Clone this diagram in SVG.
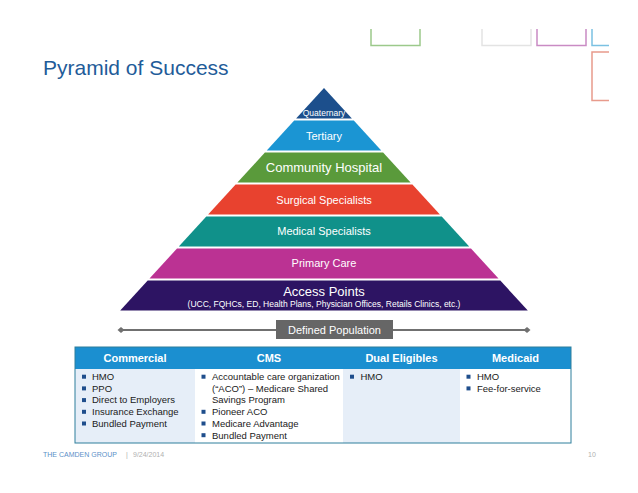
<svg xmlns="http://www.w3.org/2000/svg" width="638" height="493" viewBox="0 0 638 493">
<defs>
<style>
text{font-family:"Liberation Sans",Arial,sans-serif}
.lt{fill:#fff;text-anchor:middle}
.hd{fill:#fff;font-weight:bold;font-size:11px;text-anchor:middle}
.bd{fill:#1a1a1a;font-size:9.5px}
.bl{fill:#1f4e8c}
.deco{fill:none;stroke-width:1.5}
</style>
</defs>
<rect width="638" height="493" fill="#fff"/>
<g id="decoration">
<path class="deco" stroke="#9cc98b" d="M371,29V45.5H420V29"/>
<path class="deco" stroke="#e3e3e3" d="M482,29V45.5H531V29"/>
<path class="deco" stroke="#c98bc4" d="M537,29V45.5H586V29"/>
<path class="deco" stroke="#7bc1e2" d="M592,29V45.5H609"/>
<path class="deco" stroke="#e89b8c" d="M609,52H592V100.5H609"/>
</g>
<text id="title" x="43" y="75" font-size="21" fill="#1f5c99">Pyramid of Success</text>
<g id="pyramid">
<g id="quaternary"><polygon points="324,88 351.9,118.5 296.1,118.5" fill="#1c4f8c"/><text class="lt" x="324" y="116" font-size="8.5">Quaternary</text></g>
<g id="tertiary"><polygon points="294.2,120.5 353.8,120.5 381.25,150.5 266.75,150.5" fill="#1b95d3"/><text class="lt" x="324" y="139.5" font-size="11">Tertiary</text></g>
<g id="community"><polygon points="264.9,152.5 383.1,152.5 410.6,182.5 237.4,182.5" fill="#5a9a3b"/><text class="lt" x="324" y="172.3" font-size="13">Community Hospital</text></g>
<g id="surgical"><polygon points="235.6,184.5 412.4,184.5 439.9,214.5 208.1,214.5" fill="#e8422f"/><text class="lt" x="324" y="203.7" font-size="11">Surgical Specialists</text></g>
<g id="medical"><polygon points="206.3,216.5 441.7,216.5 469.2,246.5 178.8,246.5" fill="#10918a"/><text class="lt" x="324" y="235.3" font-size="11">Medical Specialists</text></g>
<g id="primary"><polygon points="177,248.5 471,248.5 498.5,278.5 149.5,278.5" fill="#bb3293"/><text class="lt" x="324" y="267" font-size="11">Primary Care</text></g>
<g id="access"><polygon points="147.7,280.5 500.3,280.5 527.8,310.5 120.2,310.5" fill="#2d1463"/><text class="lt" x="324" y="296" font-size="13">Access Points</text><text class="lt" x="324" y="306.5" font-size="8.5">(UCC, FQHCs, ED, Health Plans, Physician Offices, Retails Clinics, etc.)</text></g>
</g>
<g id="connectors">
<line x1="121" y1="330" x2="527" y2="330" stroke="#707070" stroke-width="2"/>
<polygon points="117.5,330 121,327 124.5,330 121,333" fill="#707070"/>
<polygon points="523.5,330 527,327 530.5,330 527,333" fill="#707070"/>
</g>
<g id="defined-population">
<rect x="276" y="320" width="117" height="19" fill="#666"/>
<text class="lt" x="334.5" y="333.8" font-size="11">Defined Population</text>
</g>
<g id="table">
<rect x="75" y="369" width="120" height="74" fill="#e6eef8"/>
<rect x="195" y="369" width="148" height="74" fill="#fff"/>
<rect x="343" y="369" width="117" height="74" fill="#e6eef8"/>
<rect x="460" y="369" width="111" height="74" fill="#fff"/>
<rect x="75" y="347" width="496" height="22" fill="#1b8fd0"/>
<rect x="75" y="347" width="496" height="96" fill="none" stroke="#2f7f9c" stroke-width="1"/>
<g id="commercial">
<text class="hd" x="135" y="362">Commercial</text>
<rect class="bl" x="82" y="374.7" width="4" height="4"/><text class="bd" x="92" y="380">HMO</text>
<rect class="bl" x="82" y="386.4" width="4" height="4"/><text class="bd" x="92" y="391.7">PPO</text>
<rect class="bl" x="82" y="398.1" width="4" height="4"/><text class="bd" x="92" y="403.4">Direct to Employers</text>
<rect class="bl" x="82" y="409.8" width="4" height="4"/><text class="bd" x="92" y="415.1">Insurance Exchange</text>
<rect class="bl" x="82" y="421.5" width="4" height="4"/><text class="bd" x="92" y="426.8">Bundled Payment</text>
</g>
<g id="cms">
<text class="hd" x="269" y="362">CMS</text>
<rect class="bl" x="201.5" y="374.7" width="4" height="4"/><text class="bd" x="212" y="380">Accountable care organization</text>
<text class="bd" x="212" y="391.7">(“ACO”) – Medicare Shared</text>
<text class="bd" x="212" y="403.4">Savings Program</text>
<rect class="bl" x="201.5" y="409.8" width="4" height="4"/><text class="bd" x="212" y="415.1">Pioneer ACO</text>
<rect class="bl" x="201.5" y="421.5" width="4" height="4"/><text class="bd" x="212" y="426.8">Medicare Advantage</text>
<rect class="bl" x="201.5" y="433.2" width="4" height="4"/><text class="bd" x="212" y="438.5">Bundled Payment</text>
</g>
<g id="dual-eligibles">
<text class="hd" x="401.5" y="362">Dual Eligibles</text>
<rect class="bl" x="350" y="374.7" width="4" height="4"/><text class="bd" x="360.5" y="380">HMO</text>
</g>
<g id="medicaid">
<text class="hd" x="515.5" y="362">Medicaid</text>
<rect class="bl" x="466.5" y="374.7" width="4" height="4"/><text class="bd" x="477" y="380">HMO</text>
<rect class="bl" x="466.5" y="386.4" width="4" height="4"/><text class="bd" x="477" y="391.7">Fee-for-service</text>
</g>
</g>
<g id="footer" font-size="7">
<text x="43" y="457" fill="#5b8fc7">THE CAMDEN GROUP</text>
<text x="126" y="457" fill="#b0b0b0">|</text>
<text x="133" y="457" fill="#b0b0b0">9/24/2014</text>
<text x="588" y="457" fill="#b0b0b0">10</text>
</g>
</svg>
